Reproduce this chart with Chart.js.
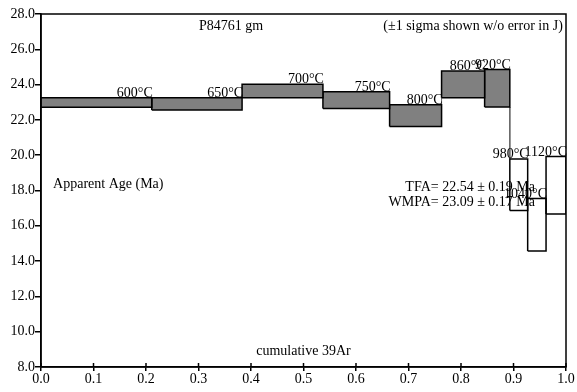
<!DOCTYPE html>
<html>
<head>
<meta charset="utf-8">
<script src="https://cdn.jsdelivr.net/npm/chart.js@4"></script>
<style>
  html, body { margin: 0; padding: 0; background: #fff; }
  #wrap { width: 577px; height: 392px; }
</style>
</head>
<body>
<div id="wrap"><canvas id="spectrum"></canvas></div>
<script>
// heating steps, cumulative 39Ar fraction and 1-sigma age band (Ma)
const steps = ['600°C', '650°C', '700°C', '750°C', '800°C', '860°C', '920°C', '980°C', '1040°C', '1120°C'];
const cumStart = [0.000, 0.211, 0.383, 0.537, 0.664, 0.763, 0.845, 0.893, 0.927, 0.962];
const cumEnd   = [0.211, 0.383, 0.537, 0.664, 0.763, 0.845, 0.893, 0.927, 0.962, 1.000];
const ageHigh  = [23.26, 23.26, 24.02, 23.60, 22.86, 24.77, 24.85, 19.78, 17.54, 19.92];
const ageLow   = [22.71, 22.56, 23.26, 22.64, 21.62, 23.26, 22.73, 16.86, 14.57, 16.67];
const inPlateau = [true, true, true, true, true, true, true, false, false, false];

const xTicks = [0.0, 0.1, 0.2, 0.3, 0.4, 0.5, 0.6, 0.7, 0.8, 0.9, 1.0];
const yTicks = [8.0, 10.0, 12.0, 14.0, 16.0, 18.0, 20.0, 22.0, 24.0, 26.0, 28.0];

const FONT = '14px "Liberation Serif", "Times New Roman", serif';

const datasets = [];
steps.forEach((s, i) => {
    datasets.push({
        label: s,
        data: [
            {x: cumStart[i], y: ageLow[i]},
            {x: cumStart[i], y: ageHigh[i]},
            {x: cumEnd[i], y: ageHigh[i]},
            {x: cumEnd[i], y: ageLow[i]},
            {x: cumStart[i], y: ageLow[i]}
        ],
        showLine: true,
        fill: 'shape',
        backgroundColor: inPlateau[i] ? '#808080' : 'rgba(255,255,255,0)',
        borderColor: '#000',
        borderWidth: 1.5,
        pointRadius: 0,
        tension: 0
    });
});

// thin connectors where two neighbouring steps don't overlap
for (let i = 0; i < steps.length - 1; i++) {
    let a = null, b = null;
    if (ageLow[i] > ageHigh[i + 1]) { a = ageLow[i]; b = ageHigh[i + 1]; }
    else if (ageHigh[i] < ageLow[i + 1]) { a = ageHigh[i]; b = ageLow[i + 1]; }
    if (a === null) continue;
    datasets.push({
        label: 'link' + i,
        data: [{x: cumEnd[i], y: a}, {x: cumEnd[i], y: b}],
        showLine: true,
        fill: false,
        borderColor: '#666',
        borderWidth: 1,
        pointRadius: 0
    });
}

const notes = [
    {text: 'P84761 gm', x: 0.301, y: 27.12, align: 'left'},
    {text: '(±1 sigma shown w/o error in J)', x: 0.994, y: 27.12, align: 'right'},
    {text: 'Apparent Age (Ma)', x: 0.023, y: 18.15, align: 'left'},
    {text: 'TFA= 22.54 ± 0.19 Ma', x: 0.941, y: 18.0, align: 'right'},
    {text: 'WMPA= 23.09 ± 0.17 Ma', x: 0.941, y: 17.12, align: 'right'},
    {text: 'cumulative 39Ar', x: 0.41, y: 8.68, align: 'left'}
];

const frame = {
    id: 'frame',
    afterDatasetsDraw(chart) {
        const {ctx, chartArea: a, scales} = chart;
        const xs = scales.x, ys = scales.y;
        ctx.save();
        // step temperature labels, right edge of each box
        ctx.font = FONT;
        ctx.fillStyle = '#000';
        ctx.textAlign = 'right';
        ctx.textBaseline = 'alphabetic';
        steps.forEach((s, i) => {
            ctx.fillText(s, xs.getPixelForValue(cumEnd[i]) + 1, ys.getPixelForValue(ageHigh[i]) - 1);
        });
        notes.forEach(n => {
            ctx.textAlign = n.align;
            ctx.fillText(n.text, xs.getPixelForValue(n.x), ys.getPixelForValue(n.y));
        });
        // box around the plot
        ctx.strokeStyle = '#000';
        ctx.lineWidth = 1.5;
        ctx.strokeRect(a.left, a.top, a.right - a.left, a.bottom - a.top);
        // x ticks poke into the plot too
        ctx.lineWidth = 1.5;
        xTicks.forEach(v => {
            const px = xs.getPixelForValue(v);
            ctx.beginPath();
            ctx.moveTo(px, a.bottom);
            ctx.lineTo(px, a.bottom - 4);
            ctx.stroke();
        });
        ctx.restore();
    }
};

new Chart(document.getElementById('spectrum'), {
    type: 'scatter',
    data: {datasets},
    options: {
        responsive: true,
        maintainAspectRatio: false,
        animation: false,
        layout: {padding: {top: 14, right: 11, left: 0, bottom: 0}},
        plugins: {legend: {display: false}, tooltip: {enabled: false}},
        scales: {
            x: {
                type: 'linear', min: 0, max: 1,
                afterBuildTicks: s => { s.ticks = xTicks.map(v => ({value: v})); },
                afterFit: s => { s.height = 25; },
                ticks: {
                    callback: v => v.toFixed(1),
                    color: '#000', padding: 0, maxRotation: 0, autoSkip: false,
                    font: {family: '"Liberation Serif", serif', size: 14}
                },
                grid: {drawOnChartArea: false, tickLength: 4, color: '#000', lineWidth: 1.5},
                border: {color: '#000', width: 1.5}
            },
            y: {
                type: 'linear', min: 8, max: 28,
                afterBuildTicks: s => { s.ticks = yTicks.map(v => ({value: v})); },
                afterFit: s => { s.width = 41; },
                ticks: {
                    callback: v => v.toFixed(1),
                    color: '#000', padding: 0, autoSkip: false,
                    font: {family: '"Liberation Serif", serif', size: 14}
                },
                grid: {drawOnChartArea: false, tickLength: 6, color: '#000', lineWidth: 1.5},
                border: {color: '#000', width: 1.5}
            }
        }
    },
    plugins: [frame]
});
</script>
</body>
</html>
